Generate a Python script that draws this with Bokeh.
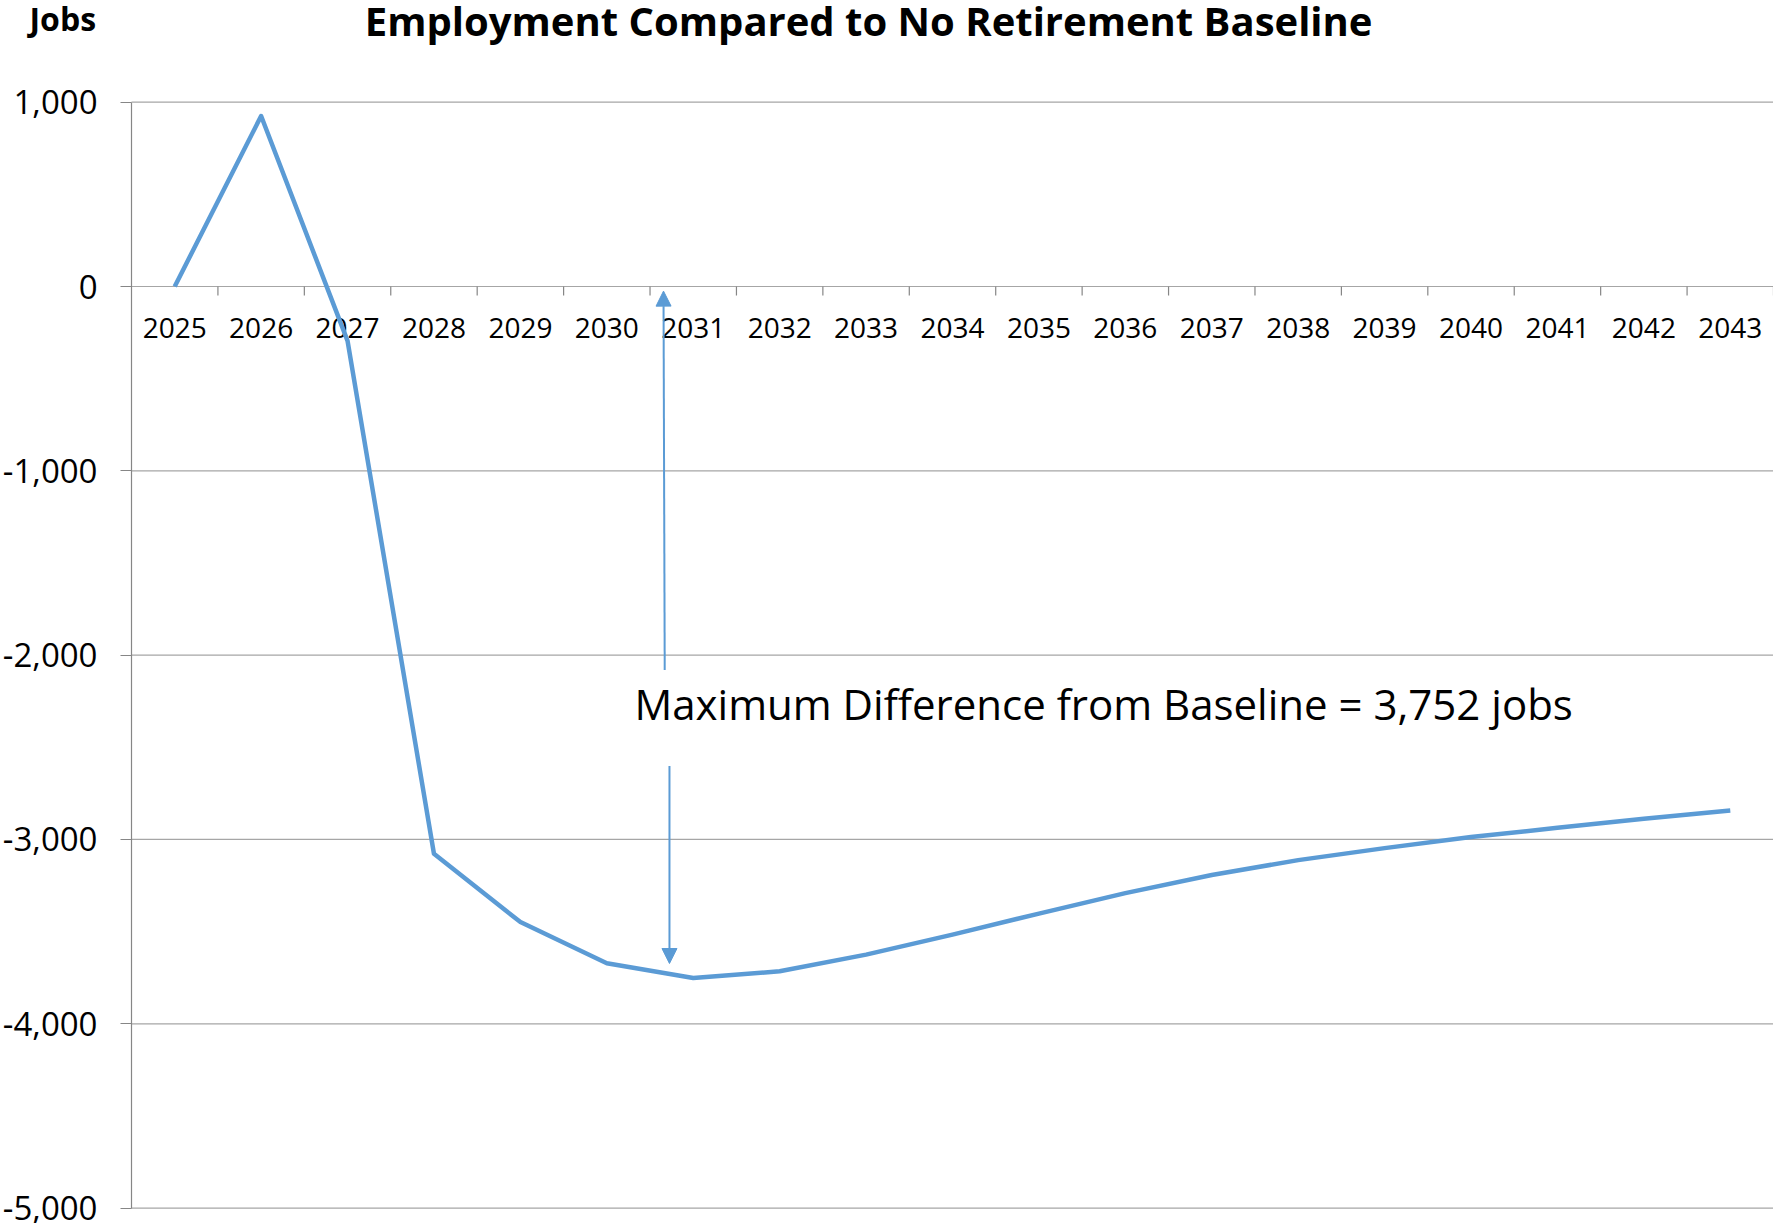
from bokeh.plotting import figure
from bokeh.models import Range1d, FixedTicker, NumeralTickFormatter, Label, Arrow, NormalHead, LinearAxis
from bokeh.core.properties import value
from bokeh.embed import file_html
from bokeh.resources import INLINE

# ---- data ----
years = [str(y) for y in range(2025, 2044)]
jobs = [0, 925, -295, -3078, -3448, -3672, -3752, -3715, -3625, -3516,
        -3402, -3291, -3193, -3112, -3047, -2987, -2937, -2888, -2843]
y_ticks = [-5000, -4000, -3000, -2000, -1000, 0, 1000]
title_text = "Employment Compared to No Retirement Baseline"
axis_title = "Jobs"
note_text = "Maximum Difference from Baseline = 3,752 jobs"

FONT = "Open Sans"
LINE_COLOR = "#5B9BD5"
GRID_COLOR = "#A6A6A6"
AXIS_COLOR = "#868686"

W, H = 1773, 1223
n = len(years)
xc = [i + 0.5 for i in range(n)]

# pixel geometry of the plotting area inside the full canvas
LEFT_PX, TOP_PX, BOTTOM_PX = 131.0, 101.7, 1207.6
px_per_x = (W - LEFT_PX) / n
px_per_y = (BOTTOM_PX - TOP_PX) / (y_ticks[-1] - y_ticks[0])
x_start = -LEFT_PX / px_per_x
y_end = y_ticks[-1] + TOP_PX / px_per_y
y_start = y_ticks[-1] - (H - TOP_PX) / px_per_y

p = figure(width=W, height=H, output_backend="svg", toolbar_location=None,
           x_range=Range1d(x_start, n), y_range=Range1d(y_start, y_end),
           x_axis_type=None, y_axis_type=None, min_border=0,
           min_border_left=0, min_border_right=0, min_border_top=0, min_border_bottom=0)
p.outline_line_color = None
p.background_fill_color = "white"
p.border_fill_color = "white"
p.xgrid.visible = False
p.ygrid.visible = False

# y axis (fixed at the left edge of the category area)
yax = LinearAxis(fixed_location=0, bounds=(y_ticks[0], y_ticks[-1]))
yax.ticker = FixedTicker(ticks=y_ticks)
yax.formatter = NumeralTickFormatter(format="0,0")
yax.major_label_text_font = FONT
yax.major_label_text_font_size = "33px"
yax.major_label_text_color = "black"
yax.axis_line_color = AXIS_COLOR
yax.axis_line_width = 1.2
yax.major_tick_line_color = AXIS_COLOR
yax.major_tick_out = 11
yax.major_tick_in = 0
yax.minor_tick_line_color = None
yax.major_label_standoff = 23
p.add_layout(yax, "left")

# horizontal gridlines across the category area
k = len(y_ticks)
p.segment(x0=[0] * k, y0=y_ticks, x1=[n] * k, y1=y_ticks,
          line_color=GRID_COLOR, line_width=1.2)

# category axis crossing at zero: ticks between categories and labels
bounds = [i for i in range(1, n + 1)]
p.segment(x0=bounds, y0=[0] * n, x1=bounds, y1=[-9 / px_per_y] * n,
          line_color=AXIS_COLOR, line_width=1.2)
p.text(x=xc, y=[0] * n, text=years, text_font=value(FONT), text_font_size="28px",
       text_align="center", text_baseline="middle", y_offset=41, text_color="black")

# series
p.line(xc, jobs, line_color=LINE_COLOR, line_width=4.5, line_join="round")

# annotation arrows and text
head = dict(size=15, fill_color=LINE_COLOR, line_color=LINE_COLOR)
p.add_layout(Arrow(end=NormalHead(**head),
                   x_start=6.17, y_start=-2080, x_end=6.156, y_end=-25,
                   line_color=LINE_COLOR, line_width=2))
p.add_layout(Arrow(end=NormalHead(**head),
                   x_start=6.225, y_start=-2601, x_end=6.225, y_end=-3673,
                   line_color=LINE_COLOR, line_width=2))
p.add_layout(Label(x=5.82, y=-2263, text=note_text, text_font=FONT,
                   text_font_size="42px", text_color="black",
                   text_baseline="alphabetic", text_align="left"))

# titles
p.add_layout(Label(x=8.53, y=1445, text=title_text, text_font=FONT,
                   text_font_size="40px", text_font_style="bold", text_color="black",
                   text_baseline="alphabetic", text_align="center"))
p.add_layout(Label(x=-1.18, y=1452, text=axis_title, text_font=FONT,
                   text_font_size="32px", text_font_style="bold", text_color="black",
                   text_baseline="alphabetic", text_align="left"))

open("out.html", "w").write(file_html(p, INLINE))
